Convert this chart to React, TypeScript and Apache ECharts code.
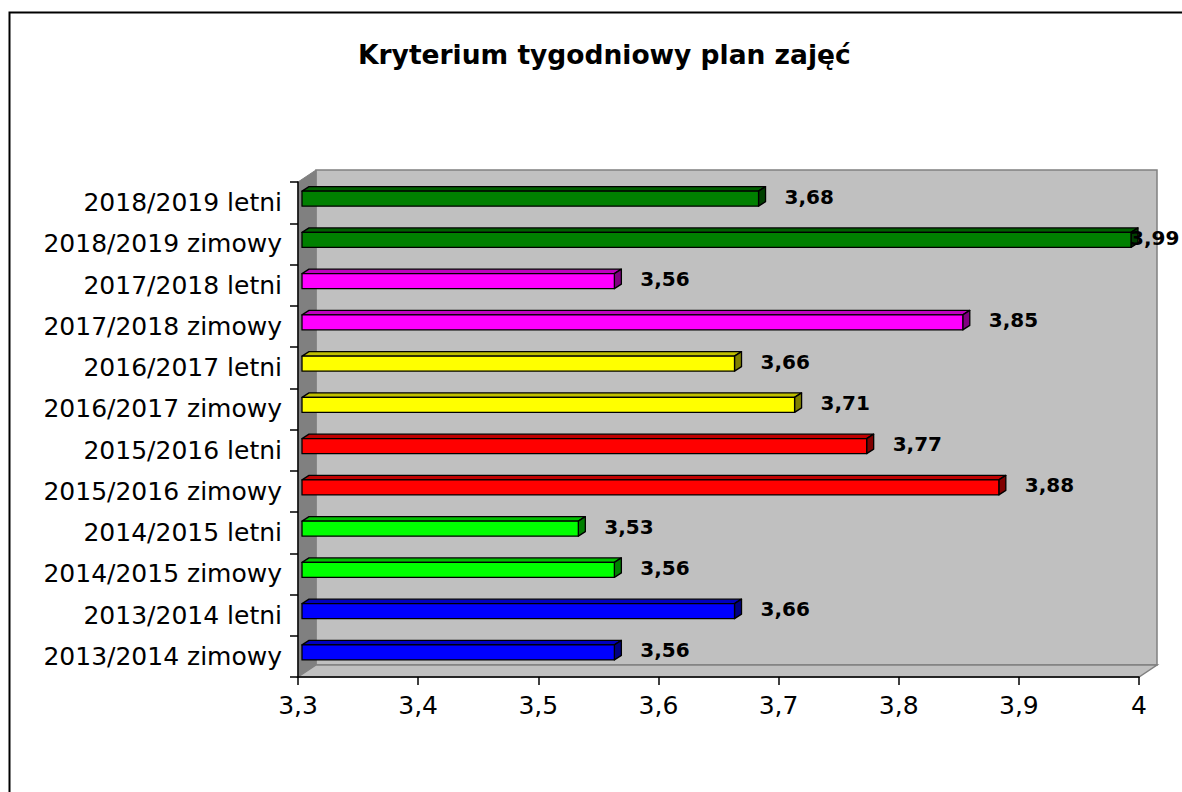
import React, { useEffect, useRef } from "react";
import * as echarts from "echarts";

const categories = [
  "2013/2014 zimowy",
  "2013/2014 letni",
  "2014/2015 zimowy",
  "2014/2015 letni",
  "2015/2016 zimowy",
  "2015/2016 letni",
  "2016/2017 zimowy",
  "2016/2017 letni",
  "2017/2018 zimowy",
  "2017/2018 letni",
  "2018/2019 zimowy",
  "2018/2019 letni",
];
const values = [3.56, 3.66, 3.56, 3.53, 3.88, 3.77, 3.71, 3.66, 3.85, 3.56, 3.99, 3.68];
const barColors = [
  "#0000FF", "#0000FF",
  "#00FF00", "#00FF00",
  "#FF0000", "#FF0000",
  "#FFFF00", "#FFFF00",
  "#FF00FF", "#FF00FF",
  "#008000", "#008000",
];
const xTicks = [3.3, 3.4, 3.5, 3.6, 3.7, 3.8, 3.9, 4];
const title = "Kryterium tygodniowy plan zajęć";

const X_MIN = 3.3;
const X_MAX = 4;

const W = 1182;
const H = 792;
const GL = 298;
const GT = 182;
const GR = 1139;
const GB = 677;
const DX = 18;
const DY = -12;

function shade(hex: string, f: number) {
  const n = parseInt(hex.slice(1), 16);
  const r = Math.round(((n >> 16) & 255) * f);
  const g = Math.round(((n >> 8) & 255) * f);
  const b = Math.round((n & 255) * f);
  return `rgb(${r},${g},${b})`;
}

function fmt(v: number) {
  return String(Math.round(v * 100) / 100).replace(".", ",");
}

export default function App() {
  const ref = useRef<HTMLDivElement>(null);
  useEffect(() => {
    if (!ref.current) return;
    const chart = echarts.init(ref.current, undefined, { renderer: "svg" });
    const data = values.map((v, i) => [v, i]);
    const option: any = {
      animation: false,
      backgroundColor: "#ffffff",
      title: {
        text: title,
        left: 353,
        top: 36,
        textStyle: {
          fontFamily: "DejaVu Sans",
          fontWeight: "bold",
          fontSize: 26.5,
          color: "#000",
        },
      },
      graphic: [
        {
          type: "rect",
          z: -1,
          silent: true,
          shape: { x: 9.5, y: 12.5, width: W + 20, height: H + 20 },
          style: { fill: "none", stroke: "#000", lineWidth: 2 },
        },
        {
          type: "rect",
          z: -1,
          silent: true,
          shape: { x: GL + DX, y: GT + DY, width: GR - GL, height: GB - GT },
          style: { fill: "#C0C0C0", stroke: "#808080", lineWidth: 1.5 },
        },
        {
          type: "polygon",
          z: -1,
          silent: true,
          shape: {
            points: [
              [GL, GT],
              [GL + DX, GT + DY],
              [GL + DX, GB + DY],
              [GL, GB],
            ],
          },
          style: { fill: "#808080", stroke: "#808080", lineWidth: 1 },
        },
        {
          type: "polygon",
          z: -1,
          silent: true,
          shape: {
            points: [
              [GL, GB],
              [GL + DX, GB + DY],
              [GR + DX, GB + DY],
              [GR, GB],
            ],
          },
          style: { fill: "#C0C0C0", stroke: "#808080", lineWidth: 1.5 },
        },
      ],
      grid: {
        left: GL,
        top: GT,
        right: W - GR,
        bottom: H - GB,
        containLabel: false,
      },
      xAxis: {
        type: "value",
        min: X_MIN,
        max: X_MAX,
        interval: 0.1,
        z: 5,
        axisLine: { show: true, lineStyle: { color: "#000", width: 1.5 } },
        axisTick: { show: true, length: 8, lineStyle: { color: "#000", width: 1.5 } },
        splitLine: { show: false },
        axisLabel: {
          margin: 16,
          color: "#000",
          fontFamily: "DejaVu Sans",
          fontSize: 25,
          formatter: (v: number) => {
            const r = Math.round(v * 10) / 10;
            return xTicks.indexOf(r) >= 0 ? fmt(r) : "";
          },
        },
      },
      yAxis: {
        type: "category",
        data: categories,
        z: 5,
        axisLine: { show: true, lineStyle: { color: "#000", width: 1.5 } },
        axisTick: { show: true, length: 8, lineStyle: { color: "#000", width: 1.5 } },
        splitLine: { show: false },
        axisLabel: {
          margin: 16,
          color: "#000",
          fontFamily: "DejaVu Sans",
          fontSize: 25,
        },
      },
      series: [
        {
          type: "custom",
          z: 10,
          data,
          encode: { x: 0, y: 1 },
          renderItem: (params: any, api: any) => {
            const v = api.value(0);
            const idx = api.value(1);
            const p0 = api.coord([X_MIN, idx]);
            const p1 = api.coord([v, idx]);
            const color = barColors[params.dataIndex];
            const bh = 15;
            const dx = 7;
            const dy = -4.5;
            const L = p0[0] + 4;
            const R = p1[0] + 4;
            const T = p0[1] - 4 - bh / 2;
            const B = T + bh;
            const stroke = { stroke: "#000", lineWidth: 1.3, lineJoin: "round" };
            const lx = Math.min(R + 26, W - 52);
            return {
              type: "group",
              children: [
                {
                  type: "polygon",
                  shape: { points: [[L, T], [L + dx, T + dy], [R + dx, T + dy], [R, T]] },
                  style: { fill: shade(color, 0.75), ...stroke },
                },
                {
                  type: "polygon",
                  shape: { points: [[R, T], [R + dx, T + dy], [R + dx, B + dy], [R, B]] },
                  style: { fill: shade(color, 0.5), ...stroke },
                },
                {
                  type: "rect",
                  shape: { x: L, y: T, width: R - L, height: bh },
                  style: { fill: color, ...stroke },
                },
                {
                  type: "text",
                  z2: 20,
                  style: {
                    x: lx,
                    y: T + bh / 2 - 2,
                    text: fmt(v),
                    fill: "#000",
                    fontFamily: "DejaVu Sans",
                    fontWeight: "bold",
                    fontSize: 20,
                    verticalAlign: "middle",
                    align: "left",
                  },
                },
              ],
            };
          },
        },
      ],
    };
    chart.setOption(option);
    return () => chart.dispose();
  }, []);
  return (
    <div
      ref={ref}
      style={{ position: "fixed", left: 0, top: 0, width: W, height: H, background: "#fff" }}
    />
  );
}
